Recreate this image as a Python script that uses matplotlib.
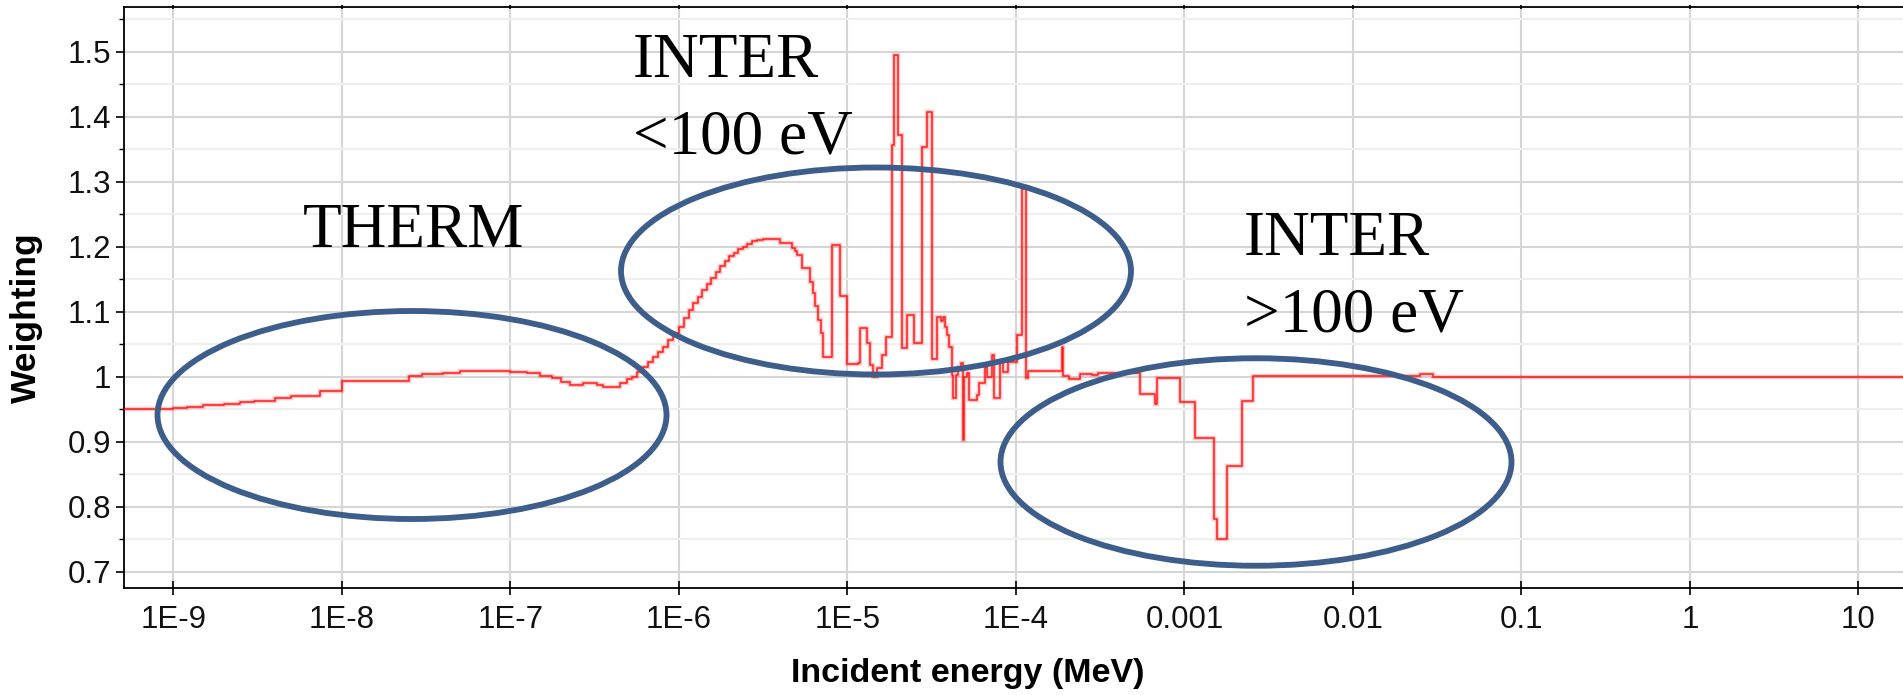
import matplotlib
matplotlib.use("Agg")
import matplotlib.pyplot as plt
from matplotlib.patches import Ellipse
from matplotlib.ticker import FixedLocator, NullLocator
from matplotlib import font_manager

# ---------------- data ----------------
# left edge of each energy group (MeV) and the weighting in that group
energy_mev = [
    5.0e-10, 7.6e-10, 1.0e-9, 1.2e-9, 1.5e-9, 2.0e-9, 2.5e-9, 3.0e-9, 4.0e-9, 5.0e-9,
    7.4e-9, 1.0e-8, 2.5e-8, 3.0e-8, 4.0e-8, 5.0e-8, 1.0e-7, 1.25e-7, 1.5e-7, 1.77e-7,
    2.0e-7, 2.26e-7, 2.7e-7, 3.27e-7, 3.54e-7, 4.47e-7, 4.92e-7, 5.27e-7, 5.64e-7, 6.12e-7,
    6.56e-7, 7.02e-7, 7.52e-7, 8.05e-7, 8.62e-7, 9.23e-7, 1.0e-6, 1.07e-6, 1.15e-6, 1.21e-6,
    1.30e-6, 1.37e-6, 1.47e-6, 1.55e-6, 1.66e-6, 1.75e-6, 1.88e-6, 1.98e-6, 2.12e-6, 2.24e-6,
    2.40e-6, 2.54e-6, 2.72e-6, 2.91e-6, 3.16e-6, 3.98e-6, 4.67e-6, 4.89e-6, 5.04e-6, 5.36e-6,
    6.0e-6, 6.22e-6, 6.42e-6, 6.72e-6, 6.94e-6, 7.14e-6, 8.07e-6, 9.04e-6, 1.0e-5, 1.16e-5,
    1.19e-5, 1.30e-5, 1.36e-5, 1.42e-5, 1.49e-5, 1.60e-5, 1.69e-5, 1.84e-5, 1.89e-5, 2.0e-5,
    2.1e-5, 2.25e-5, 2.49e-5, 2.76e-5, 2.98e-5, 3.17e-5, 3.39e-5, 3.59e-5, 3.69e-5, 3.79e-5,
    3.90e-5, 4.01e-5, 4.16e-5, 4.25e-5, 4.41e-5, 4.55e-5, 4.70e-5, 4.83e-5, 4.94e-5, 5.11e-5,
    5.29e-5, 5.85e-5, 6.07e-5, 6.55e-5, 6.71e-5, 7.18e-5, 7.41e-5, 8.05e-5, 8.35e-5, 9.02e-5,
    1.01e-4, 1.08e-4, 1.15e-4, 1.18e-4, 1.87e-4, 1.91e-4, 2.08e-4, 2.40e-4, 2.82e-4, 3.08e-4,
    5.45e-4, 6.69e-4, 6.85e-4, 9.42e-4, 1.15e-3, 1.50e-3, 1.56e-3, 1.78e-3, 2.19e-3, 2.56e-3,
    2.50e-2, 2.99e-2, 20.0,
]
weighting = [
    0.950, 0.951, 0.9525, 0.954, 0.956, 0.9585, 0.961, 0.963, 0.9665, 0.971,
    0.978, 0.994, 1.001, 1.004, 1.006, 1.0085, 1.008, 1.0055, 1.0016, 0.9975,
    0.9913, 0.9872, 0.9897, 0.988, 0.9846, 0.9897, 0.996, 1.000, 1.0077, 1.0154,
    1.023, 1.0308, 1.0385, 1.046, 1.0565, 1.0667, 1.077, 1.090, 1.103, 1.113,
    1.122, 1.133, 1.143, 1.152, 1.161, 1.170, 1.178, 1.185, 1.191, 1.196,
    1.200, 1.204, 1.208, 1.210, 1.2114, 1.206, 1.1975, 1.194, 1.187, 1.167,
    1.146, 1.129, 1.109, 1.088, 1.067, 1.030, 1.2026, 1.124, 1.0195, 1.021,
    1.075, 1.052, 1.018, 1.000, 1.013, 1.033, 1.0605, 1.356, 1.495, 1.372,
    1.0437, 1.095, 1.052, 1.354, 1.4077, 1.028, 1.092, 1.085, 1.092, 1.077,
    1.064, 1.046, 1.0026, 0.967, 1.0026, 1.015, 1.0205, 0.9026, 1.000, 1.005,
    0.964, 0.972, 0.991, 1.015, 1.000, 1.033, 0.967, 1.0205, 1.0077, 1.023,
    1.064, 1.288, 0.998, 1.009, 1.045, 1.001, 0.996, 1.004, 1.003, 1.006,
    0.974, 0.958, 0.998, 0.9615, 0.906, 0.781, 0.750, 0.863, 0.963, 1.001,
    1.004, 1.000, 1.000,
]

x_ticks = [1e-9, 1e-8, 1e-7, 1e-6, 1e-5, 1e-4, 1e-3, 1e-2, 1e-1, 1, 10]
x_tick_labels = ["1E-9", "1E-8", "1E-7", "1E-6", "1E-5", "1E-4",
                 "0.001", "0.01", "0.1", "1", "10"]
y_ticks = [0.7, 0.8, 0.9, 1.0, 1.1, 1.2, 1.3, 1.4, 1.5]
y_tick_labels = ["0.7", "0.8", "0.9", "1", "1.1", "1.2", "1.3", "1.4", "1.5"]
y_minor_ticks = [0.75, 0.85, 0.95, 1.05, 1.15, 1.25, 1.35, 1.45, 1.55]

region_labels = [("THERM",), ("INTER", "<100 eV"), ("INTER", ">100 eV")]
x_label = "Incident energy (MeV)"
y_label = "Weighting"

# ---------------- fonts ----------------
installed = {f.name for f in font_manager.fontManager.ttflist}
if "Liberation Sans Narrow" in installed:
    tick_family, tick_size = ["Liberation Sans Narrow", "DejaVu Sans"], 24.5
else:
    tick_family, tick_size = ["Liberation Sans", "DejaVu Sans"], 22.5

# ---------------- figure ----------------
W, H = 1903, 695
fig = plt.figure(figsize=(W / 100, H / 100), dpi=100)
ax = fig.add_axes([123.7 / W, (H - 588.3) / H, 1 - 123.7 / W, (588.3 - 6.7) / H])

ax.set_xscale("log")
ax.set_xlim(5.07e-10, 18.4)
ax.set_ylim(0.6745, 1.5692)

# pale halo + crisp red step line
ax.plot(energy_mev, weighting, drawstyle="steps-post", color="#ff0000",
        lw=3.2, alpha=0.22, solid_joinstyle="miter", zorder=3)
ax.plot(energy_mev, weighting, drawstyle="steps-post", color="#ff1a1a",
        lw=1.1, zorder=4)

# ticks
ax.xaxis.set_major_locator(FixedLocator(x_ticks))
ax.xaxis.set_minor_locator(NullLocator())
ax.set_xticklabels(x_tick_labels)
ax.yaxis.set_major_locator(FixedLocator(y_ticks))
ax.set_yticklabels(y_tick_labels)
ax.yaxis.set_minor_locator(FixedLocator(y_minor_ticks))

for lab in ax.get_xticklabels() + ax.get_yticklabels():
    lab.set_fontfamily(tick_family)
    lab.set_fontsize(tick_size)
    lab.set_color("#111111")

ax.tick_params(axis="x", which="major", direction="inout", length=10, width=1.2,
               pad=7, color="black", top=True)
ax.tick_params(axis="y", which="major", direction="out", length=6, width=1.2,
               pad=3, color="black")
ax.tick_params(axis="y", which="minor", direction="out", length=3.5, width=1.0,
               color="black")
# short marks on the top spine
for tl in ax.xaxis.get_major_ticks():
    tl.tick2line.set_markersize(3)

# grid
ax.grid(True, which="major", axis="both", color="#d6d6d6", lw=1.5, zorder=0)
ax.grid(True, which="minor", axis="y", color="#efefef", lw=1.5, zorder=0)
ax.set_axisbelow(True)

for side in ("left", "bottom", "top"):
    ax.spines[side].set_color("black")
    ax.spines[side].set_linewidth(1.3)
ax.spines["right"].set_visible(False)

label_family = ["Liberation Sans", "DejaVu Sans"]
ax.set_xlabel(x_label, fontsize=24.5, fontweight="bold", family=label_family)
ax.set_ylabel(y_label, fontsize=25.5, fontweight="bold", family=label_family)
ax.xaxis.set_label_coords((968 - 123.7) / (W - 123.7), (588.3 - 673.5) / (588.3 - 6.7))
ax.yaxis.set_label_coords((26 - 123.7) / (W - 123.7), (588.3 - 318) / (588.3 - 6.7))
ax.xaxis.label.set_va("center")
ax.yaxis.label.set_va("center")

# region annotations (figure pixel positions)
serif = ["Liberation Serif", "DejaVu Serif"]
text_pos = [(303, [247]), (633, [77, 153]), (1244, [255, 332])]
for lines, (tx, baselines) in zip(region_labels, text_pos):
    for line, by in zip(lines, baselines):
        fig.text(tx / W, 1 - by / H, line, family=serif, fontsize=45.5,
                 ha="left", va="baseline", color="black", zorder=10)

ellipses = [(412, 415, 509, 208), (876, 271, 510, 207), (1256, 462, 511, 207.5)]
for cx, cy, ew, eh in ellipses:
    fig.add_artist(Ellipse((cx / W, 1 - cy / H), ew / W, eh / H,
                           transform=fig.transFigure, fill=False,
                           edgecolor="#3d5e8b", lw=4.2, zorder=20))

fig.savefig("out.png", dpi=100)
